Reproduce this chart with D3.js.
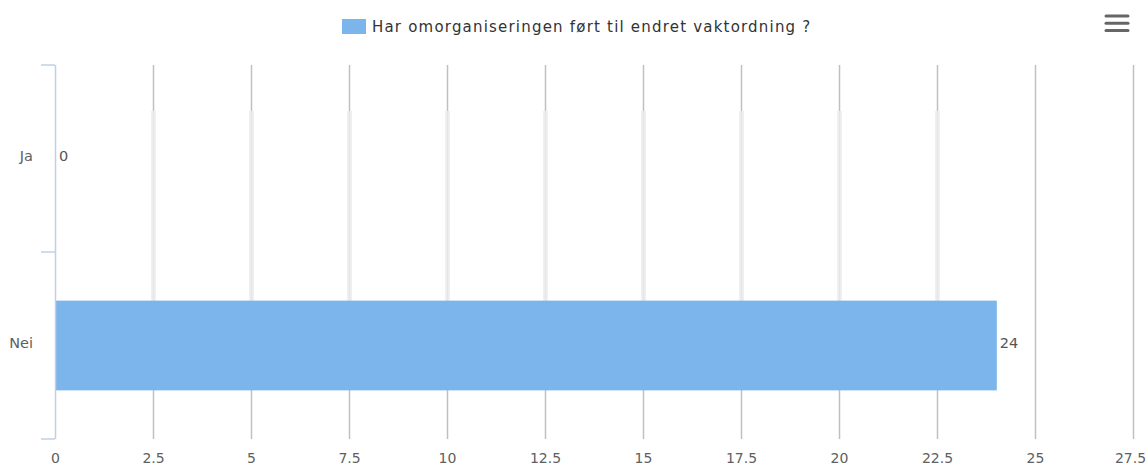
<!DOCTYPE html>
<html>
<head>
<meta charset="utf-8">
<script src="https://cdn.jsdelivr.net/npm/d3@7"></script>
<style>
  body { margin: 0; background: #fff; }
  svg { font-family: "DejaVu Sans", Verdana, sans-serif; }
</style>
</head>
<body>
<div id="chart"></div>
<script>
// data
var categories = ["Ja", "Nei"];
var values = [0, 24];
var seriesName = "Har omorganiseringen ført til endret vaktordning ?";
var xTicks = [0, 2.5, 5, 7.5, 10, 12.5, 15, 17.5, 20, 22.5, 25, 27.5];

var W = 1148, H = 468;
var margin = { top: 65, right: 15, bottom: 29, left: 55 };
var width = W - margin.left - margin.right,
    height = H - margin.top - margin.bottom;

var svg = d3.select("#chart").append("svg")
    .attr("width", W)
    .attr("height", H);

var g = svg.append("g")
    .attr("transform", "translate(" + margin.left + "," + margin.top + ")");

var x = d3.scaleLinear().domain([0, 27.5]).range([0, width]);
var y = d3.scaleBand().domain(categories).range([0, height]).paddingInner(0).paddingOuter(0);

// grid lines
g.selectAll(".grid")
    .data(xTicks.slice(1))
    .enter().append("line")
    .attr("class", "grid")
    .attr("x1", function (d) { return Math.round(x(d)) + 0.5; })
    .attr("x2", function (d) { return Math.round(x(d)) + 0.5; })
    .attr("y1", 0)
    .attr("y2", height)
    .attr("stroke", "#c0c0c0")
    .attr("stroke-width", 1.5);

// faded band over the grid above the bar
var bandTop = 46, bandBottom = y("Nei") + y.bandwidth() * 0.26;
var soft = xTicks.filter(function (d) { return d > 0 && d < values[1]; });
g.append("rect")
    .attr("x", 2)
    .attr("y", bandTop)
    .attr("width", x(values[1]) - 2)
    .attr("height", bandBottom - bandTop)
    .attr("fill", "#fff");
g.selectAll(".soft")
    .data(soft)
    .enter().append("line")
    .attr("x1", function (d) { return Math.round(x(d)) + 0.5; })
    .attr("x2", function (d) { return Math.round(x(d)) + 0.5; })
    .attr("y1", bandTop)
    .attr("y2", bandBottom)
    .attr("stroke", "#f0f0f0")
    .attr("stroke-width", 5);
g.selectAll(".softc")
    .data(soft)
    .enter().append("line")
    .attr("x1", function (d) { return Math.round(x(d)) + 0.5; })
    .attr("x2", function (d) { return Math.round(x(d)) + 0.5; })
    .attr("y1", bandTop)
    .attr("y2", bandBottom)
    .attr("stroke", "#e6e6e6")
    .attr("stroke-width", 1.5);

// bars
var barH = y.bandwidth() * 0.48;
g.selectAll(".bar")
    .data(values)
    .enter().append("rect")
    .attr("class", "bar")
    .attr("x", x(0) + 1)
    .attr("y", function (d, i) { return y(categories[i]) + (y.bandwidth() - barH) / 2; })
    .attr("width", function (d) { return Math.max(0, x(d) - x(0)); })
    .attr("height", barH)
    .attr("fill", "#7cb5ec");

// data labels
g.selectAll(".dlabel")
    .data(values)
    .enter().append("text")
    .attr("x", function (d) { return x(d) + 4; })
    .attr("y", function (d, i) { return y(categories[i]) + y.bandwidth() / 2 + 2; })
    .attr("fill", "#555")
    .style("font-size", "14.5px")
    .text(function (d) { return d; });

// y axis line + ticks
var yAxis = g.append("g");
yAxis.append("line")
    .attr("x1", 0.5).attr("x2", 0.5)
    .attr("y1", 0).attr("y2", height)
    .attr("stroke", "#c0d0e0").attr("stroke-width", 1.5);
var yEdges = [0].concat(categories.map(function (c) { return y(c) + y.bandwidth(); }));
yAxis.selectAll(".ytick")
    .data(yEdges)
    .enter().append("line")
    .attr("x1", -14).attr("x2", 0)
    .attr("y1", function (d) { return d; })
    .attr("y2", function (d) { return d; })
    .attr("stroke", "#c0d0e0").attr("stroke-width", 1.5);
yAxis.selectAll(".ylabel")
    .data(categories)
    .enter().append("text")
    .attr("x", -22)
    .attr("y", function (d) { return y(d) + y.bandwidth() / 2 + 2; })
    .attr("text-anchor", "end")
    .attr("fill", "#606060")
    .style("font-size", "14.5px")
    .text(function (d) { return d; });

// x axis labels
var xAxis = g.append("g")
    .attr("transform", "translate(0," + height + ")")
    .call(d3.axisBottom(x).tickValues(xTicks).tickSize(0).tickPadding(14)
        .tickFormat(function (d) { return d; }));
xAxis.select(".domain").remove();
xAxis.selectAll("text")
    .attr("fill", "#606060")
    .style("font-family", "\"DejaVu Sans\", Verdana, sans-serif")
    .style("font-size", "14px");
// keep the last label inside the frame
xAxis.selectAll(".tick:last-of-type text").attr("text-anchor", "end").attr("dx", "0.9em");

// legend
var legend = svg.append("g");
legend.append("rect")
    .attr("x", 342).attr("y", 19)
    .attr("width", 24).attr("height", 15)
    .attr("fill", "#7cb5ec");
legend.append("text")
    .attr("x", 372).attr("y", 32)
    .attr("fill", "#333")
    .style("font-size", "15px")
    .style("letter-spacing", "1.2px")
    .text(seriesName);

// menu icon
svg.selectAll(".menu")
    .data([0, 1, 2])
    .enter().append("line")
    .attr("x1", 1106).attr("x2", 1128)
    .attr("y1", function (d) { return 16 + d * 7.3; })
    .attr("y2", function (d) { return 16 + d * 7.3; })
    .attr("stroke", "#666")
    .attr("stroke-width", 3)
    .attr("stroke-linecap", "round");
</script>
</body>
</html>
